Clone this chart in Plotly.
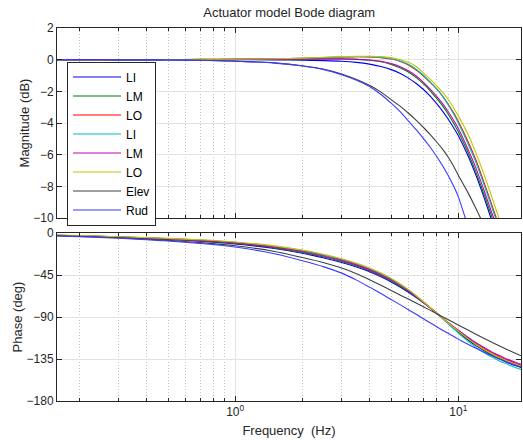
import plotly.graph_objects as go

# Frequency grid (Hz)
freq = [0.159, 0.2, 0.3, 0.4, 0.5, 0.7, 1, 1.5, 2, 2.5, 3, 3.5, 4, 4.5, 5, 5.5, 6, 6.5,
        7, 7.5, 8, 8.5, 9, 9.5, 10, 11, 12, 13, 14, 15, 16, 17, 18, 19.1]

names = ["LI", "LM", "LO", "LI", "LM", "LO", "Elev", "Rud"]

# Magnitude (dB)
mag_li1 = [0, 0, 0, 0, 0, 0, 0, -0.01, -0.03, -0.06, -0.1, -0.17, -0.28, -0.43, -0.63, -0.88, -1.18, -1.52,
           -1.9, -2.32, -2.78, -3.25, -3.75, -4.27, -4.8, -6.0, -7.3, -8.65, -10.0, -11.25, -12.4, -13.45, -14.45, -15.45]
mag_lm1 = [0, 0, 0, 0, 0.01, 0.01, 0.02, 0.03, 0.03, 0.04, 0.04, 0.02, -0.04, -0.13, -0.3, -0.52, -0.8, -1.15,
           -1.55, -1.98, -2.45, -2.92, -3.43, -3.98, -4.55, -5.8, -7.1, -8.45, -9.75, -11.0, -12.15, -13.2, -14.2, -15.2]
mag_lo1 = [0, 0, 0, 0.01, 0.01, 0.02, 0.03, 0.05, 0.09, 0.13, 0.16, 0.18, 0.17, 0.13, 0.04, -0.12, -0.35, -0.68,
           -1.05, -1.45, -1.85, -2.3, -2.8, -3.33, -3.9, -5.1, -6.35, -7.7, -9.0, -10.25, -11.4, -12.45, -13.45, -14.45]
mag_li2 = [0, 0, 0, 0.01, 0.01, 0.02, 0.03, 0.05, 0.09, 0.14, 0.17, 0.19, 0.18, 0.14, 0.06, -0.08, -0.3, -0.62,
           -1.0, -1.42, -1.84, -2.3, -2.85, -3.4, -4.0, -5.25, -6.5, -7.85, -9.15, -10.4, -11.55, -12.6, -13.6, -14.6]
mag_lm2 = [0, 0, 0, 0, 0.01, 0.01, 0.02, 0.03, 0.04, 0.05, 0.05, 0.03, -0.02, -0.1, -0.25, -0.45, -0.72, -1.05,
           -1.45, -1.88, -2.32, -2.78, -3.27, -3.8, -4.35, -5.6, -6.85, -8.2, -9.5, -10.7, -11.85, -12.9, -13.9, -14.9]
mag_lo2 = [0, 0, 0, 0.01, 0.01, 0.02, 0.03, 0.06, 0.10, 0.15, 0.19, 0.21, 0.22, 0.20, 0.13, 0.0, -0.18, -0.45,
           -0.85, -1.25, -1.65, -2.05, -2.5, -3.0, -3.55, -4.65, -5.9, -7.2, -8.5, -9.75, -10.9, -11.9, -12.9, -13.9]
mag_elev = [0, 0, -0.01, -0.01, -0.02, -0.04, -0.09, -0.2, -0.38, -0.6, -0.9, -1.25, -1.62, -2.05, -2.52, -2.95, -3.4, -3.85,
            -4.3, -4.75, -5.2, -5.65, -6.15, -6.7, -7.3, -8.35, -9.4, -10.45, -11.5, -12.45, -13.4, -14.3, -15.1, -16.0]
mag_rud = [0, 0, -0.01, -0.01, -0.02, -0.04, -0.1, -0.22, -0.4, -0.63, -0.95, -1.3, -1.7, -2.2, -2.75, -3.3, -3.9, -4.45,
           -5.0, -5.55, -6.12, -6.7, -7.3, -7.95, -8.65, -10.45, -12.1, -13.6, -15.0, -16.3, -17.5, -18.6, -19.6, -20.6]

# Phase (deg)
ph_li1 = [-2.7, -3.2, -4.6, -5.8, -6.8, -8.7, -11.6, -16.6, -21.7, -26.8, -31.6, -36.4, -41.5, -46.9, -52.4, -58.1, -63.8, -69.5,
          -75.1, -80.5, -85.9, -91.4, -96.7, -101.5, -106.1, -114.1, -120.7, -126.0, -130.4, -134.0, -137.1, -139.7, -142.0, -144.1]
ph_lm1 = [-2.6, -3.1, -4.5, -5.6, -6.6, -8.4, -11.1, -15.9, -20.9, -25.8, -30.6, -35.4, -40.5, -45.9, -51.5, -57.3, -63.1, -69.0,
          -74.8, -80.4, -85.9, -91.3, -96.4, -101.1, -105.5, -113.3, -119.8, -125.0, -129.4, -133.0, -136.1, -138.7, -141.0, -143.1]
ph_lo1 = [-2.4, -2.9, -4.2, -5.2, -6.1, -7.7, -10.1, -14.5, -19.2, -23.9, -28.6, -33.4, -38.5, -43.9, -49.6, -55.6, -61.7, -68.0,
          -74.2, -80.2, -85.9, -91.2, -96.0, -100.5, -104.7, -112.2, -118.5, -123.5, -127.9, -131.5, -134.6, -137.2, -139.5, -141.6]
ph_li2 = [-2.4, -2.9, -4.1, -5.1, -5.9, -7.5, -9.9, -14.2, -18.7, -23.4, -28.1, -32.9, -38.0, -43.4, -49.1, -55.1, -61.4, -67.8,
          -74.1, -80.2, -85.9, -91.6, -97.2, -102.3, -107.2, -115.6, -122.5, -128.0, -132.4, -136.0, -139.1, -141.7, -144.0, -146.1]
ph_lm2 = [-2.5, -3.0, -4.3, -5.4, -6.3, -8.0, -10.6, -15.2, -20.0, -24.85, -29.6, -34.4, -39.5, -44.9, -50.5, -56.4, -62.4, -68.5,
          -74.5, -80.3, -85.9, -91.1, -95.8, -100.1, -104.1, -111.4, -117.6, -122.5, -126.9, -130.5, -133.6, -136.2, -138.5, -140.6]
ph_lo2 = [-2.3, -2.8, -4.0, -5.0, -5.8, -7.3, -9.6, -13.8, -18.3, -23.0, -27.6, -32.4, -37.5, -42.9, -48.6, -54.7, -61.0, -67.5,
          -73.9, -80.1, -85.9, -91.3, -96.3, -100.9, -105.2, -112.9, -119.4, -124.5, -128.9, -132.5, -135.6, -138.2, -140.5, -142.6]
ph_elev = [-2.9, -3.6, -5.1, -6.6, -7.9, -10.3, -13.6, -19.8, -26.3, -31.9, -37.6, -43.6, -50.0, -56.0, -61.6, -66.6, -71.1, -75.3,
           -79.2, -82.9, -86.4, -89.7, -92.8, -95.7, -98.5, -103.7, -108.5, -112.8, -116.6, -120.1, -123.3, -126.2, -128.9, -131.6]
ph_rud = [-3.2, -3.9, -5.6, -7.2, -8.6, -11.3, -15.0, -22.3, -29.8, -36.3, -43.0, -50.5, -58.0, -64.8, -71.2, -77.0, -82.4, -87.4,
          -92.1, -96.4, -100.4, -104.1, -107.5, -110.7, -113.7, -119.0, -123.6, -127.6, -131.1, -134.2, -136.9, -139.3, -141.5, -143.6]

mags = [mag_li1, mag_lm1, mag_lo1, mag_li2, mag_lm2, mag_lo2, mag_elev, mag_rud]
phases = [ph_li1, ph_lm1, ph_lo1, ph_li2, ph_lm2, ph_lo2, ph_elev, ph_rud]
colors = ["#0000f0", "#007f00", "#ff0000", "#00bfbf", "#bf00bf", "#c4c400", "#404040", "#3a3aff"]

mag_ticks = [2, 0, -2, -4, -6, -8, -10]
phase_ticks = [0, -45, -90, -135, -180]
x_major = [1, 10]
x_major_text = ["10<sup>0</sup>", "10<sup>1</sup>"]
x_minor = [0.2, 0.3, 0.4, 0.5, 0.6, 0.7, 0.8, 0.9, 2, 3, 4, 5, 6, 7, 8, 9]

fig = go.Figure()
for n, m, c in zip(names, mags, colors):
    fig.add_trace(go.Scatter(x=freq, y=m, mode="lines", name=n,
                             line=dict(color=c, width=1.1, shape="spline", smoothing=0.6),
                             xaxis="x", yaxis="y"))
for n, p, c in zip(names, phases, colors):
    fig.add_trace(go.Scatter(x=freq, y=p, mode="lines", name=n, showlegend=False,
                             line=dict(color=c, width=1.1, shape="spline", smoothing=0.6),
                             xaxis="x2", yaxis="y2"))

font = "Liberation Sans, Arial, Helvetica, sans-serif"
axcol = "#262626"
grid_major = "#e3e3e3"
grid_minor = "#c4c4c4"
FS = 13
TFS = 12

xcommon = dict(type="log", range=[-0.7986, 1.2810], showline=True, linecolor=axcol, linewidth=1,
               mirror="allticks", ticks="inside", ticklen=5, tickcolor=axcol, automargin=False,
               tickvals=x_major, showgrid=True, gridcolor=grid_major, gridwidth=1, zeroline=False,
               minor=dict(tickvals=x_minor, ticks="inside", ticklen=3, tickcolor=axcol,
                          showgrid=True, gridcolor=grid_minor, griddash="1px,2px", gridwidth=1),
               tickfont=dict(size=TFS, color="#262626"))

fig.update_layout(
    width=523, height=443,
    margin=dict(l=57, r=2, t=28, b=42),
    paper_bgcolor="white", plot_bgcolor="white",
    font=dict(family=font, size=FS, color="#262626"),
    title=dict(text="Actuator model Bode diagram", x=0.553, xanchor="center", y=0.972, yanchor="middle",
               font=dict(size=FS, color="#262626")),
    xaxis=dict(**xcommon, anchor="y", showticklabels=False),
    xaxis2=dict(**xcommon, anchor="y2", matches="x", ticktext=x_major_text,
                title=dict(text="Frequency\u00a0\u00a0(Hz)", standoff=7, font=dict(size=FS))),
    yaxis=dict(domain=[0.4906, 1.0], range=[-10, 2], tickvals=mag_ticks, showline=True, linecolor=axcol,
               mirror="allticks", ticks="inside", ticklen=5, tickcolor=axcol, showgrid=True, automargin=False,
               gridcolor=grid_major, zeroline=False, tickfont=dict(size=TFS),
               title=dict(text="Magnitude (dB)", standoff=0, font=dict(size=FS))),
    yaxis2=dict(domain=[0.0, 0.4504], range=[-180, 0], tickvals=phase_ticks, showline=True, linecolor=axcol,
                mirror="allticks", ticks="inside", ticklen=5, tickcolor=axcol, showgrid=True, automargin=False,
                gridcolor=grid_major, zeroline=False, tickfont=dict(size=TFS),
                title=dict(text="Phase (deg)", standoff=1, font=dict(size=FS))),
    legend=dict(x=0.0216, y=0.91, xanchor="left", yanchor="top", bgcolor="white",
                bordercolor=axcol, borderwidth=1, font=dict(size=12, color="black"),
                tracegroupgap=0, itemwidth=48),
    showlegend=True,
)

fig.write_html("out.html", config={"displayModeBar": False},
               post_script="document.body.style.margin='0';")
